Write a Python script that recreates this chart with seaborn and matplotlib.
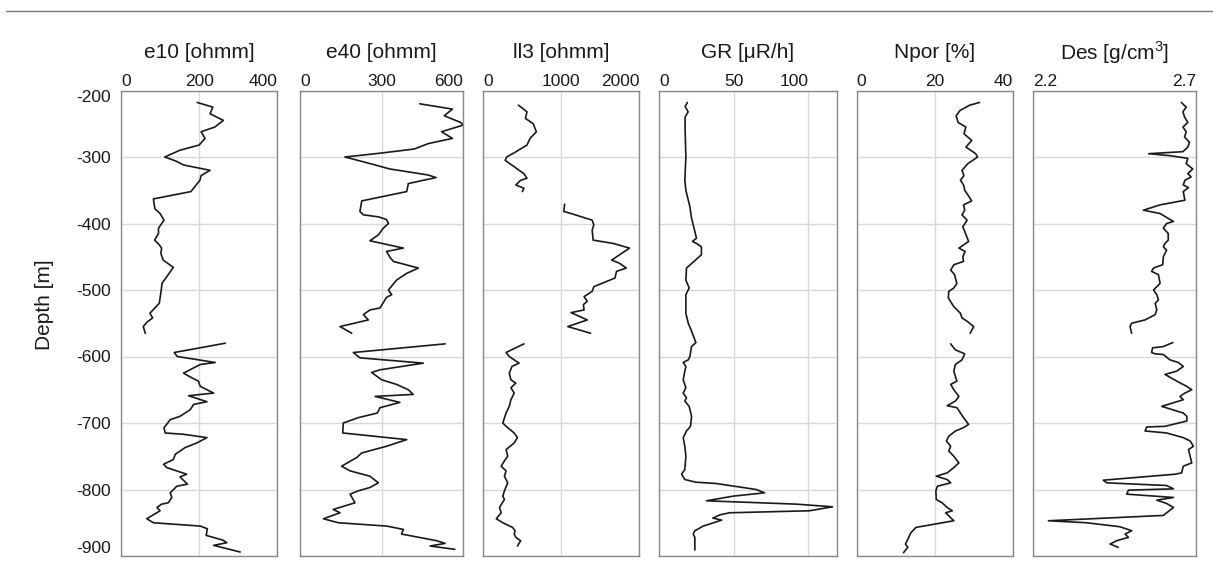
import numpy as np
import pandas as pd
import matplotlib
matplotlib.use("Agg")
import matplotlib.pyplot as plt
from matplotlib.lines import Line2D
import seaborn as sns

nan = np.nan

# ---- well-log curves: depth [m] and reading; nan marks a gap in the log ----
e10_depth = [-218, -225, -235, -245, -255, -262, -272, -282, -290, -300, -306, -312, -320, -328,
             -335, -352, -363, -372, -378, -385, -395, -407, -415, -425, -432, -437, -445, -455,
             -466, -490, -500, -508, -520, -528, -535, -542, -548, -555, -565, nan,
             -580, -594, -600, -609, -612, -625, -632, -637, -645, -655, -659, -668, -672, -680,
             -690, -695, -702, -707, -715, -717, -722, -730, -737, -747, -755, -762, -767, -777,
             -781, -792, -795, -805, -812, -820, -822, -827, -832, -844, -850, -855, -859, -869,
             -876, -880, -884, -894]
e10_value = [195, 235, 228, 262, 240, 205, 215, 200, 150, 112, 140, 160, 228, 205,
             202, 179, 83, 85, 87, 100, 110, 96, 96, 86, 98, 104, 102, 108,
             134, 105, 103, 101, 98, 85, 74, 81, 67, 57, 62, nan,
             267, 136, 144, 241, 203, 160, 181, 198, 203, 237, 173, 220, 186, 177,
             151, 126, 117, 110, 113, 160, 220, 194, 164, 139, 134, 109, 117, 168,
             151, 170, 143, 126, 130, 121, 104, 92, 100, 66, 83, 203, 221, 218,
             260, 271, 237, 305]

e40_depth = [-220, -228, -238, -248, -252, -262, -272, -280, -288, -294, -300, -308, -318, -327,
             -331, -335, -340, -352, -366, -382, -387, -390, -394, -400, -407, -417, -426, -437,
             -442, -451, -457, -467, -475, -485, -500, -507, -511, -527, -530, -537, -545, -555,
             -565, nan,
             -581, -594, -602, -610, -620, -624, -635, -642, -650, -657, -660, -669, -677, -685,
             -692, -700, -715, -725, -735, -745, -752, -759, -765, -772, -780, -790, -797, -802,
             -807, -820, -830, -835, -844, -850, -855, -860, -867, -877, -881, -885, -890]
e40_value = [440, 560, 530, 590, 600, 520, 560, 470, 420, 300, 165, 240, 330, 470,
             500, 453, 398, 392, 227, 220, 233, 288, 318, 325, 306, 288, 257, 380,
             318, 331, 343, 435, 392, 355, 325, 337, 318, 294, 257, 233, 251, 147,
             190, nan,
             533, 196, 220, 453, 294, 263, 300, 355, 398, 416, 276, 367, 294, 284,
             214, 159, 157, 392, 318, 227, 208, 178, 153, 184, 257, 288, 257, 214,
             184, 202, 122, 147, 86, 141, 318, 380, 373, 502, 533, 478, 569]

ll3_depth = [-222, -232, -242, -250, -262, -272, -282, -292, -300, -305, -315, -325, -332, -335,
             -342, -347, -352, nan,
             -371, -382, -385, -395, -402, -410, -425, -430, -437, -455, -460, -467, -472, -482,
             -495, -502, -510, -517, -522, -530, -534, -545, -555, -565, nan,
             -581, -594, -600, -610, -615, -625, -635, -640, -647, -655, -665, -675, -685, -700,
             -705, -715, -722, -730, -740, -750, -757, -765, -772, -780, -790, -802, -810, -815,
             -827, -835, -844, -850, -857, -862, -867, -872, -877, -885]
ll3_value = [450, 560, 540, 640, 680, 600, 560, 420, 300, 280, 400, 520, 560, 479,
             417, 521, 500, nan,
             1042, 1033, 1125, 1396, 1417, 1396, 1408, 1667, 1875, 1646, 1750, 1833, 1708, 1688,
             1417, 1396, 1292, 1333, 1283, 1292, 1125, 1333, 1083, 1375, nan,
             521, 292, 333, 458, 367, 333, 354, 417, 354, 396, 354, 333, 292, 250,
             292, 396, 438, 396, 292, 313, 271, 229, 292, 271, 313, 271, 250, 271,
             208, 229, 167, 250, 375, 408, 396, 417, 479, 438]

gr_depth = [-218, -224, -232, -240, -260, -300, -335, -350, -375, -392, -422, -427, -430, -435,
            -447, -467, -485, -497, -507, -535, -550, -562, -579, -585, -600, -605, -609, -615,
            -622, -635, -647, -655, -662, -667, -675, -690, -705, -712, -722, -735, -750, -770,
            -777, -785, -789, -791, -800, -805, -810, -817, -822, -826, -832, -835, -838, -843,
            -846, -855, -862, -867, -872, -891]
gr_value = [19, 17.5, 19.5, 17.5, 17.5, 18, 17.3, 18, 20.7, 21.8, 25.1, 22.4, 25.1, 28.4,
            28.4, 18.4, 18, 20.2, 18, 18, 19.6, 21.8, 24.7, 21.8, 20.7, 19.6, 16.2, 18,
            17.3, 16.2, 18, 16.2, 18.4, 17.3, 20.2, 21.8, 21.1, 18.4, 16.2, 17.3, 18, 17.3,
            15.1, 17.3, 24.7, 38.4, 65.1, 70.7, 49.6, 31.8, 91.8, 116.2, 100.7, 47.3, 41, 36,
            42, 29.6, 24, 22.9, 24, 24]

npor_depth = [-218, -222, -230, -238, -248, -255, -265, -275, -285, -295, -300, -310, -320, -328,
              -335, -342, -350, -366, -372, -380, -387, -395, -405, -412, -427, -437, -442, -450,
              -457, -462, -470, -477, -482, -490, -497, -502, -512, -525, -535, -542, -547, -555,
              -565, nan,
              -581, -590, -596, -605, -612, -622, -630, -637, -642, -650, -660, -667, -674, -677,
              -685, -692, -702, -707, -712, -720, -727, -735, -742, -750, -760, -767, -775, -780,
              -785, -790, -795, -802, -815, -820, -827, -832, -835, -847, -857, -865, -875, -882,
              -887, -895]
npor_value = [31.5, 29, 26.5, 25.5, 26, 28, 27.5, 29.5, 28, 30.5, 31, 28.5, 27, 27.5,
              26.6, 27.4, 27.7, 29.5, 27.4, 27.7, 27, 28.3, 27.2, 27.7, 28.7, 26.2, 27.8, 27.2,
              27.4, 24.9, 24.1, 25.1, 25.3, 25.7, 24.9, 23.6, 23.5, 24.9, 26.6, 27, 28.3, 30,
              29.1, nan,
              24.1, 25.3, 27.7, 27, 25.3, 24.9, 25.3, 25.7, 24.1, 24.9, 26.2, 25.3, 23.2, 25.7,
              26.6, 27.4, 28.7, 27.4, 25.3, 23.6, 23, 24.1, 23.6, 24.9, 26.2, 24.9, 23.2, 20.4,
              23.2, 24.1, 20.7, 20.3, 20.4, 21.9, 23.2, 24.5, 22.8, 24.9, 15.2, 13.9, 13.1, 12.5,
              13.1, 12]

des_depth = [-218, -225, -232, -240, -248, -255, -262, -270, -278, -285, -292, -295, -298, -302,
             -310, -318, -325, -330, -335, -342, -346, -352, -365, -372, -380, -385, -397, -400,
             -407, -415, -425, -430, -435, -440, -450, -462, -467, -472, -477, -490, -500, -507,
             -515, -520, -530, -537, -545, -550, -555, -565, nan,
             -579, -585, -587, -594, -596, -597, -605, -609, -615, -622, -627, -637, -645, -650,
             -655, -660, -665, -675, -685, -690, -697, -705, -706, -712, -715, -722, -727, -735,
             -740, -750, -760, -765, -775, -777, -786, -790, -794, -799, -801, -807, -812, -816,
             -821, -827, -839, -847, -850, -856, -862, -867, -872, -877, -882, -887]
des_value = [2.655, 2.670, 2.660, 2.665, 2.675, 2.660, 2.670, 2.665, 2.680, 2.675, 2.660, 2.555, 2.620, 2.675,
             2.670, 2.690, 2.675, 2.685, 2.666, 2.661, 2.677, 2.661, 2.666, 2.590, 2.539, 2.590, 2.631, 2.610,
             2.600, 2.615, 2.615, 2.605, 2.600, 2.610, 2.600, 2.598, 2.570, 2.564, 2.585, 2.590, 2.570, 2.580,
             2.585, 2.575, 2.580, 2.575, 2.544, 2.503, 2.498, 2.503, nan,
             2.629, 2.600, 2.567, 2.564, 2.575, 2.600, 2.620, 2.646, 2.661, 2.641, 2.605, 2.641, 2.672, 2.687,
             2.666, 2.651, 2.661, 2.595, 2.661, 2.672, 2.672, 2.605, 2.549, 2.544, 2.610, 2.661, 2.682, 2.692,
             2.677, 2.682, 2.687, 2.661, 2.656, 2.636, 2.416, 2.427, 2.610, 2.631, 2.493, 2.488, 2.631, 2.580,
             2.610, 2.631, 2.600, 2.248, 2.365, 2.467, 2.503, 2.483, 2.493, 2.457, 2.437, 2.462]

titles = ["e10 [ohmm]", "e40 [ohmm]", "ll3 [ohmm]", "GR [\u03bcR/h]", "Npor [%]", "Des [g/cm$^3$]"]
x_ticks = [[0, 200, 400], [0, 300, 600], [0, 1000, 2000], [0, 50, 100], [0, 20, 40], [2.2, 2.7]]
x_tick_labels = [["0", "200", "400"], ["0", "300", "600"], ["0", "1000", "2000"],
                 ["0", "50", "100"], ["0", "20", "40"], ["2.2", "2.7"]]
x_limits = [(0, 400), (0, 600), (0, 2000), (0, 119), (0, 40), (2.2, 2.7)]
depth_ticks = [-200, -300, -400, -500, -600, -700, -800, -900]
depth_tick_labels = ["-200", "-300", "-400", "-500", "-600", "-700", "-800", "-900"]

curves = [(e10_depth, e10_value), (e40_depth, e40_value), (ll3_depth, ll3_value),
          (gr_depth, gr_value), (npor_depth, npor_value), (des_depth, des_value)]


def to_frame(depth, value):
    d = np.asarray(depth, dtype=float)
    v = np.asarray(value, dtype=float)
    seg = np.cumsum(np.isnan(d))
    df = pd.DataFrame({"depth": d, "value": v, "seg": seg})
    return df.dropna()


sns.set_theme(style="white")
plt.rcParams["font.family"] = ["Liberation Sans", "DejaVu Sans"]
plt.rcParams["mathtext.fontset"] = "custom"
plt.rcParams["mathtext.rm"] = "Liberation Sans"

W, H = 1213, 574
fig = plt.figure(figsize=(W / 100, H / 100), dpi=100)

# track extents in pixels (left, right), shared top/bottom
tracks = [(121, 277.3), (300, 463.3), (483.3, 639.3), (659, 836.7), (856.7, 1012.7), (1032.7, 1196)]
top_px, bot_px = 90.5, 556

text_col = "#1a1a1a"
spine_col = "#8a8a8a"
grid_col = "#d9d9d9"

for i, ((l, r), (dep, val)) in enumerate(zip(tracks, curves)):
    ax = fig.add_axes([l / W, 1 - bot_px / H, (r - l) / W, (bot_px - top_px) / H])
    df = to_frame(dep, val)
    sns.lineplot(data=df, x="value", y="depth", units="seg", estimator=None, sort=False,
                 color="#1a1a1a", linewidth=1.2, ax=ax, legend=False)
    ax.set_xlim(*x_limits[i])
    ax.set_ylim(-900, -200)
    ax.set_xlabel("")
    ax.set_ylabel("")
    ax.xaxis.tick_top()
    ax.set_xticks(x_ticks[i], x_tick_labels[i])
    ax.tick_params(axis="x", length=0, pad=1.0, labelsize=12.5, colors=text_col)
    xt = ax.xaxis.get_major_ticks()
    xt[0].label2.set_horizontalalignment("left")
    xt[-1].label2.set_horizontalalignment("right")
    if i == 0:
        ax.set_yticks(depth_ticks, depth_tick_labels)
        ax.tick_params(axis="y", length=0, pad=7, labelsize=12.5, colors=text_col)
        yt = ax.yaxis.get_major_ticks()
        yt[0].label1.set_verticalalignment("top")
        yt[-1].label1.set_verticalalignment("bottom")
    else:
        ax.set_yticks(depth_ticks, [""] * len(depth_ticks))
        ax.tick_params(axis="y", length=0)
    ax.grid(True, color=grid_col, linewidth=1.0)
    ax.set_axisbelow(True)
    for s in ax.spines.values():
        s.set_color(spine_col)
        s.set_linewidth(1.0)
    ax.text(0.5, 1 + (top_px - 53) / (bot_px - top_px), titles[i], transform=ax.transAxes,
            ha="center", va="center", fontsize=15, color=text_col)

fig.text(45 / W, 1 - 305 / H, "Depth [m]", rotation=90, ha="center", va="center",
         fontsize=15, color=text_col)

fig.add_artist(Line2D([6 / W, 1.0], [1 - 11 / H, 1 - 11 / H], color="#7a7a7a", linewidth=1.0))

fig.savefig("out.png", dpi=100, facecolor="white")
